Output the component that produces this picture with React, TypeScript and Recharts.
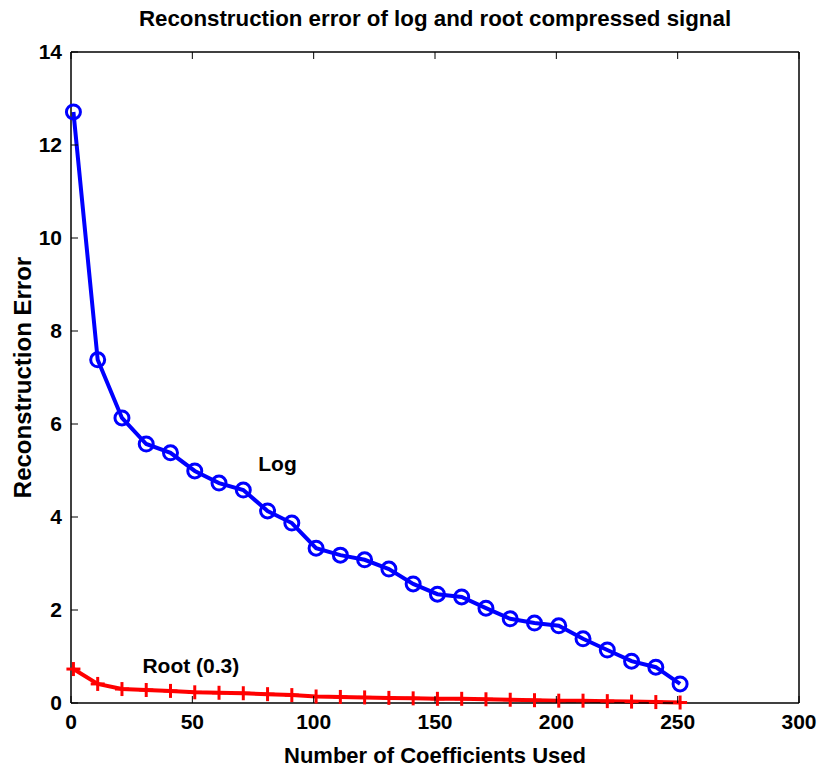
import React from "react";
import {
  LineChart,
  Line,
  XAxis,
  YAxis,
  ReferenceDot,
} from "recharts";

const coeffs = [1, 11, 21, 31, 41, 51, 61, 71, 81, 91, 101, 111, 121, 131, 141, 151, 161, 171, 181, 191, 201, 211, 221, 231, 241, 251];
const logError = [12.71, 7.38, 6.13, 5.57, 5.38, 4.99, 4.73, 4.58, 4.13, 3.87, 3.33, 3.18, 3.08, 2.88, 2.56, 2.34, 2.28, 2.04, 1.81, 1.72, 1.66, 1.38, 1.14, 0.9, 0.77, 0.41];
const rootError = [0.73, 0.41, 0.3, 0.28, 0.26, 0.23, 0.22, 0.21, 0.19, 0.17, 0.14, 0.13, 0.12, 0.11, 0.1, 0.09, 0.09, 0.08, 0.07, 0.06, 0.05, 0.05, 0.04, 0.03, 0.02, 0.01];
const xTicks = [0, 50, 100, 150, 200, 250, 300];
const yTicks = [0, 2, 4, 6, 8, 10, 12, 14];

const data = coeffs.map((c, i) => ({ n: c, log: logError[i], root: rootError[i] }));

const FONT = "'Liberation Sans', Arial, sans-serif";
const TICK_LEN = 7;

const Circle = (props: any) => {
  const { cx, cy } = props;
  if (cx == null || cy == null) return null;
  return <circle cx={cx} cy={cy} r={7} fill="none" stroke="#0000ff" strokeWidth={3} />;
};

const Plus = (props: any) => {
  const { cx, cy } = props;
  if (cx == null || cy == null) return null;
  return (
    <g stroke="#ff0000" strokeWidth={3}>
      <line x1={cx - 7} y1={cy} x2={cx + 7} y2={cy} />
      <line x1={cx} y1={cy - 7} x2={cx} y2={cy + 7} />
    </g>
  );
};

const textStyle = { fill: "#000", fontWeight: "bold", fontFamily: FONT } as const;

// MATLAB style: tick marks point into the plot box
const BottomTick = ({ x, y, payload }: any) => (
  <g>
    <line x1={x} y1={y} x2={x} y2={y - TICK_LEN} stroke="#000" strokeWidth={1} />
    <text x={x} y={y + 26} textAnchor="middle" fontSize={21} style={textStyle}>
      {payload.value}
    </text>
  </g>
);

const LeftTick = ({ x, y, payload }: any) => (
  <g>
    <line x1={x} y1={y} x2={x + TICK_LEN} y2={y} stroke="#000" strokeWidth={1} />
    <text x={x - 9} y={y + 7} textAnchor="end" fontSize={21} style={textStyle}>
      {payload.value}
    </text>
  </g>
);

const TopTick = ({ x, y }: any) => (
  <line x1={x} y1={y} x2={x} y2={y + TICK_LEN} stroke="#000" strokeWidth={1} />
);

const RightTick = ({ x, y }: any) => (
  <line x1={x} y1={y} x2={x - TICK_LEN} y2={y} stroke="#000" strokeWidth={1} />
);

export default function App() {
  return (
    <div style={{ position: "absolute", left: 0, top: 0, width: 818, height: 771, background: "#fff", overflow: "visible" }}>
      <style>{"svg.recharts-surface { overflow: visible; } .recharts-wrapper { overflow: visible !important; }"}</style>
      <div
        style={{
          position: "absolute",
          left: 71,
          width: 728,
          top: 6,
          textAlign: "center",
          fontFamily: FONT,
          fontWeight: "bold",
          fontSize: 22.3,
          zIndex: 1,
        }}
      >
        Reconstruction error of log and root compressed signal
      </div>
      <LineChart
        width={818}
        height={771}
        data={data}
        margin={{ top: 51, right: 18, bottom: 0, left: 0 }}
        style={{ position: "absolute", left: 0, top: 0 }}
      >
        <XAxis
          xAxisId="top"
          orientation="top"
          dataKey="n"
          type="number"
          domain={[0, 300]}
          ticks={xTicks}
          tick={<TopTick />}
          tickLine={false}
          tickSize={0}
          tickMargin={0}
          height={1}
          stroke="#000"
          strokeWidth={1.5}
        />
        <YAxis
          yAxisId="right"
          orientation="right"
          type="number"
          domain={[0, 14]}
          ticks={yTicks}
          tick={<RightTick />}
          tickLine={false}
          tickSize={0}
          tickMargin={0}
          width={1}
          stroke="#000"
          strokeWidth={1.5}
        />
        <XAxis
          dataKey="n"
          type="number"
          domain={[0, 300]}
          ticks={xTicks}
          tick={<BottomTick />}
          tickLine={false}
          tickSize={0}
          tickMargin={0}
          height={68}
          stroke="#000"
          strokeWidth={1.5}
          label={{
            value: "Number of Coefficients Used",
            position: "insideBottom",
            offset: 8,
            style: { ...textStyle, fontSize: 22 },
          }}
        />
        <YAxis
          type="number"
          domain={[0, 14]}
          ticks={yTicks}
          tick={<LeftTick />}
          tickLine={false}
          tickSize={0}
          tickMargin={0}
          width={71}
          stroke="#000"
          strokeWidth={1.5}
          label={{
            value: "Reconstruction Error",
            angle: -90,
            position: "insideLeft",
            offset: 22,
            style: { ...textStyle, textAnchor: "middle", fontSize: 24 },
          }}
        />
        <Line
          dataKey="log"
          stroke="#0000ff"
          strokeWidth={4}
          dot={<Circle />}
          activeDot={false}
          isAnimationActive={false}
        />
        <Line
          dataKey="root"
          stroke="#ff0000"
          strokeWidth={4}
          dot={<Plus />}
          activeDot={false}
          isAnimationActive={false}
        />
        <ReferenceDot
          x={85.1}
          y={5.14}
          r={0}
          fill="none"
          stroke="none"
          label={{ value: "Log", position: "center", style: { ...textStyle, fontSize: 21 } }}
        />
        <ReferenceDot
          x={49.4}
          y={0.8}
          r={0}
          fill="none"
          stroke="none"
          label={{ value: "Root (0.3)", position: "center", style: { ...textStyle, fontSize: 21 } }}
        />
      </LineChart>
    </div>
  );
}
